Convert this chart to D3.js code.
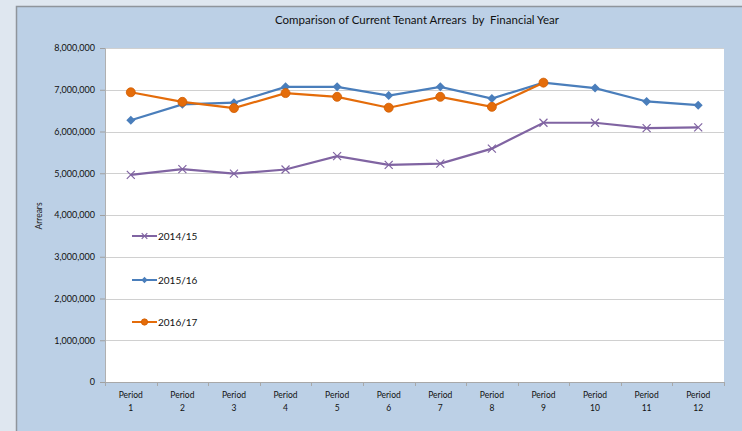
<!DOCTYPE html>
<html><head><meta charset="utf-8">
<script src="https://cdn.jsdelivr.net/npm/d3@7"></script>
<style>body{margin:0;background:#dfe7f0;}svg{display:block;}</style>
</head><body><svg id="c" width="742" height="431"></svg>
<script>
const categories = ["Period 1","Period 2","Period 3","Period 4","Period 5","Period 6","Period 7","Period 8","Period 9","Period 10","Period 11","Period 12"];
const fy1415 = [4960000,5100000,4990000,5090000,5410000,5200000,5230000,5590000,6210000,6210000,6080000,6100000];
const fy1516 = [6270000,6650000,6690000,7070000,7070000,6860000,7070000,6790000,7170000,7040000,6720000,6630000];
const fy1617 = [6940000,6710000,6560000,6920000,6830000,6570000,6830000,6590000,7170000];
const yTicks = [0,1000000,2000000,3000000,4000000,5000000,6000000,7000000,8000000];
const seriesNames = ["2014/15","2015/16","2016/17"];

const svg = d3.select("#c");
const font = "Lato, 'Open Sans', sans-serif";
svg.append("rect").attr("x",16).attr("y",6).attr("width",742-16).attr("height",431-6).attr("fill","#bcd0e6");
svg.append("path").attr("d","M16.5,431V6.5H742").attr("fill","none").attr("stroke","#8f959c").attr("stroke-width",1.5);

const m = {l:105, r:724, t:48, b:382};
svg.append("rect").attr("x",m.l).attr("y",m.t).attr("width",m.r-m.l).attr("height",m.b-m.t).attr("fill","#fff");

const x = d3.scaleBand().domain(categories).range([m.l,m.r]);
const y = d3.scaleLinear().domain([0,8000000]).range([m.b,m.t]);
const cx = d => x(d)+x.bandwidth()/2;

svg.append("g").selectAll("line").data(yTicks.slice(1)).join("line")
  .attr("x1",m.l).attr("x2",m.r).attr("y1",d=>Math.round(y(d))+0.5).attr("y2",d=>Math.round(y(d))+0.5)
  .attr("stroke","#d0d0d0").attr("stroke-width",1.2);

const yAxis = svg.append("g").attr("transform",`translate(${m.l},0)`)
  .call(d3.axisLeft(y).tickValues(yTicks).tickFormat(d3.format(",")).tickSize(5).tickPadding(5));
yAxis.select(".domain").attr("stroke","#b0b0b0");
yAxis.selectAll(".tick line").attr("stroke","#a0a0a0");
yAxis.selectAll("text").attr("font-family",font).attr("font-size",9).attr("fill","#111");

const xAxis = svg.append("g").attr("transform",`translate(0,${m.b})`)
  .call(d3.axisBottom(x).tickSize(0).tickFormat(""));
xAxis.select(".domain").attr("stroke","#a8a8a8");
svg.append("g").selectAll("line").data(categories.concat(["end"])).join("line")
  .attr("x1",(d,i)=>Math.round(m.l+i*x.bandwidth())+0.5).attr("x2",(d,i)=>Math.round(m.l+i*x.bandwidth())+0.5)
  .attr("y1",m.b).attr("y2",m.b+4).attr("stroke","#a8a8a8");
const lab = svg.append("g").selectAll("text").data(categories).join("text")
  .attr("x",d=>cx(d)).attr("y",m.b+16).attr("text-anchor","middle")
  .attr("font-family",font).attr("font-size",8.5).attr("fill","#111");
lab.append("tspan").attr("x",d=>cx(d)).text(d=>d.split(" ")[0]);
lab.append("tspan").attr("x",d=>cx(d)).attr("dy",13).text(d=>d.split(" ")[1]);

svg.append("text").attr("x",417).attr("y",24).attr("text-anchor","middle")
  .attr("font-family",font).attr("font-size",11.5).attr("fill","#111")
  .text("Comparison of Current Tenant Arrears  by  Financial Year").style("white-space","pre");
svg.append("text").attr("transform","translate(42,216) rotate(-90)").attr("text-anchor","middle")
  .attr("font-family",font).attr("font-size",8.5).attr("fill","#222").text("Arrears");

const line = d3.line().x((d,i)=>cx(categories[i])).y(d=>y(d));
const colors = ["#8064a2","#4a7ebb","#e46c0a"];
const data = [fy1415,fy1516,fy1617];

function marker(g,type,px,py,col,s){
  if(type===0){
    const r=4*s;
    g.append("path").attr("d",`M${px-r},${py-r}L${px+r},${py+r}M${px-r},${py+r}L${px+r},${py-r}`).attr("stroke",col).attr("stroke-width",1.2).attr("fill","none");
  } else if(type===1){
    const r=4.5*s;
    g.append("path").attr("d",`M${px},${py-r}L${px+r},${py}L${px},${py+r}L${px-r},${py}Z`).attr("fill",col);
  } else {
    g.append("circle").attr("cx",px).attr("cy",py).attr("r",4.5*s).attr("fill",col).attr("stroke","#d25d00").attr("stroke-width",0.8);
  }
}

data.forEach((s,k)=>{
  const g = svg.append("g");
  g.append("path").datum(s).attr("d",line).attr("fill","none").attr("stroke",colors[k]).attr("stroke-width",2.2);
  s.forEach((v,i)=>marker(g,k,cx(categories[i]),y(v),colors[k],1));
});

const legY = [236,280,322];
seriesNames.forEach((n,k)=>{
  const g = svg.append("g");
  g.append("line").attr("x1",132).attr("x2",157).attr("y1",legY[k]).attr("y2",legY[k]).attr("stroke",colors[k]).attr("stroke-width",2);
  marker(g,k,144.5,legY[k],colors[k],0.7);
  g.append("text").attr("x",158).attr("y",legY[k]+3.5).attr("font-family",font).attr("font-size",10).attr("fill","#111").text(n);
});
</script></body></html>
